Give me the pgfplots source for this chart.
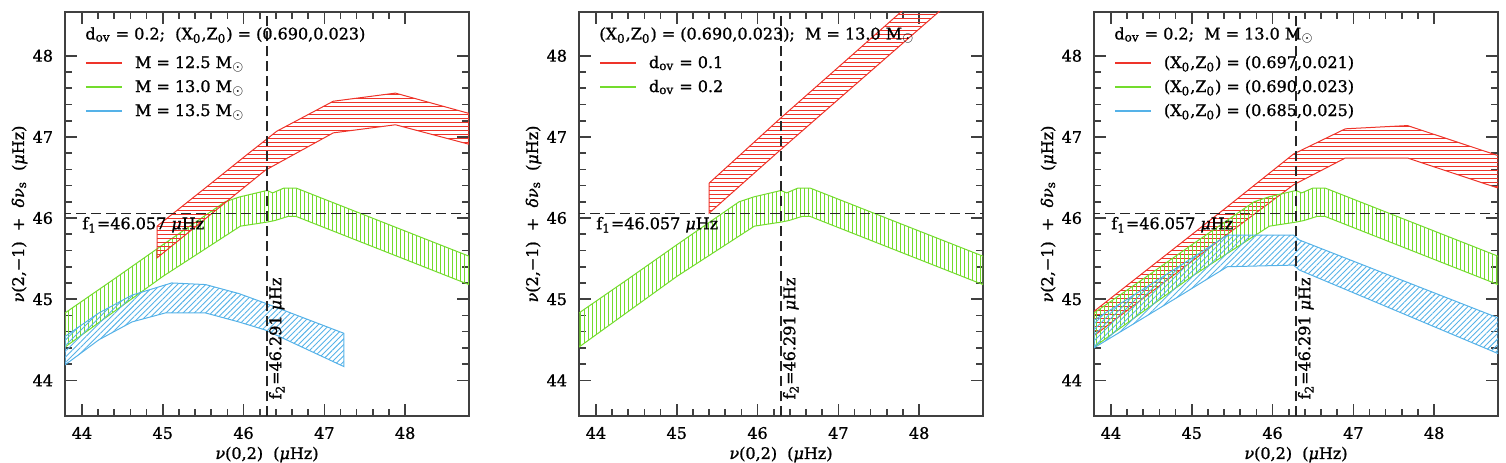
\documentclass[border=0pt]{standalone}
\usepackage{fontspec}
\setmainfont{DejaVu Serif}[FakeBold=1.2]
\usepackage{pgfplots}
\pgfplotsset{compat=1.18}
\usetikzlibrary{patterns.meta}

\definecolor{cRed}{RGB}{238,52,42}
\definecolor{cGreen}{RGB}{115,220,45}
\definecolor{cBlue}{RGB}{85,178,232}

\tikzset{
  redband/.style={draw=cRed, line width=0.5pt,
    pattern={Lines[angle=0,distance=2pt,line width=0.45pt]}, pattern color=cRed},
  greenband/.style={draw=cGreen, line width=0.5pt,
    pattern={Lines[angle=90,distance=2pt,line width=0.45pt]}, pattern color=cGreen},
  blueband/.style={draw=cBlue, line width=0.5pt,
    pattern={Lines[angle=45,distance=2pt,line width=0.45pt]}, pattern color=cBlue},
  refline/.style={black!85, line width=0.7pt, dash pattern=on 5pt off 2.5pt},
}

\pgfplotsset{
  panel/.style={
    scale only axis, width=202pt, height=202pt,
    xmin=43.79, xmax=48.79, ymin=43.56, ymax=48.54,
    xtick={44,45,46,47,48}, ytick={44,45,46,47,48},
    minor x tick num=4, minor y tick num=4,
    tick align=inside,
    major tick length=6pt, minor tick length=3.5pt,
    axis line style={line width=1pt, black!75},
    every tick/.style={line width=0.8pt, black!75},
    /pgf/number format/assume math mode=true,
    xticklabel style={inner sep=0pt, yshift=-5.3pt},
    yticklabel style={inner sep=0pt, xshift=-5.8pt},
    xlabel={\textit{ν}(0,2)\ \ (\textit{μ}Hz)},
    ylabel={\textit{ν}(2,−1)\ \ +\ \ \textit{δν}\textsubscript{s}\ \ (\textit{μ}Hz)},
    every axis x label/.style={at={(axis description cs:0.5,-0.1064)}, anchor=base},
    every axis y label/.style={at={(axis description cs:-0.1015,0.5)}, anchor=base, rotate=90},
    legend image code/.code={\draw[#1, line width=1pt] (0pt,2.6pt) -- (18pt,2.6pt);},
    legend style={at={(axis description cs:0.0495,0.896)}, anchor=north west,
      draw=none, fill=none, inner sep=0pt, outer sep=0pt, row sep=0pt, column sep=6pt,
      nodes={inner sep=0pt, text height=7pt, text depth=5pt, anchor=base west}},
  },
}

% band outlines: upper edge left to right, then lower edge right to left
\newcommand{\greenbandA}{
  \addplot[greenband, forget plot] coordinates {
    (43.79,44.83) (44.40,45.25) (45.00,45.67) (45.77,46.20) (45.95,46.26)
    (46.29,46.34) (46.36,46.31) (46.50,46.37) (46.65,46.37) (48.79,45.53)
    (48.79,45.18) (46.65,46.02) (46.55,46.02) (46.39,45.97) (46.29,45.95)
    (45.96,45.90) (45.00,45.28) (43.79,44.41) (43.79,44.83)};
}

\begin{document}
\fontsize{8pt}{10pt}\selectfont
\begin{tikzpicture}
\path[use as bounding box] (0,0) rectangle (753pt,231pt);

% ---- left: mass
\begin{axis}[panel, at={(32.5pt,23pt)}, anchor=south west]
\greenbandA
\addplot[redband, forget plot] coordinates {
  (44.93,45.90) (45.50,46.35) (46.04,46.78) (46.27,46.96) (46.41,47.07)
  (47.11,47.44) (47.88,47.54) (48.79,47.29)
  (48.79,46.91) (47.88,47.15) (47.11,47.05) (46.27,46.59) (45.50,45.97)
  (44.93,45.51) (44.93,45.90)};
\addplot[blueband, forget plot] coordinates {
  (43.79,44.54) (44.21,44.83) (44.62,45.05) (45.11,45.20) (45.53,45.18)
  (45.94,45.07) (46.27,44.95) (47.24,44.58)
  (47.24,44.17) (46.27,44.62) (45.94,44.72) (45.53,44.83) (45.03,44.83)
  (44.62,44.72) (44.21,44.50) (43.79,44.19) (43.79,44.54)};
\addplot[refline, forget plot] coordinates {(43.0,46.057) (49.0,46.057)};
\addplot[refline, forget plot] coordinates {(46.291,43.0) (46.291,49.0)};
\node[anchor=base west, inner sep=0pt] at (axis cs:44.0,45.863) {f\textsubscript{1}=46.057 \textit{μ}Hz};
\node[anchor=north west, inner sep=0pt, rotate=90] at (axis cs:46.31,43.76) {f\textsubscript{2}=46.291 \textit{μ}Hz};
\node[anchor=base west, inner sep=0pt] at (axis description cs:0.0495,0.932)
  {d\textsubscript{ov} = 0.2;\ \ (X\textsubscript{0},Z\textsubscript{0}) = (0.690,0.023)};
\addlegendimage{draw=cRed}
\addlegendentry{M = 12.5 M\textsubscript{$\odot$}}
\addlegendimage{draw=cGreen}
\addlegendentry{M = 13.0 M\textsubscript{$\odot$}}
\addlegendimage{draw=cBlue}
\addlegendentry{M = 13.5 M\textsubscript{$\odot$}}
\end{axis}

% ---- middle: overshoot
\begin{axis}[panel, at={(289.5pt,23pt)}, anchor=south west]
\greenbandA
\addplot[redband, forget plot] coordinates {
  (45.40,46.43) (46.26,47.21) (48.07,48.80)
  (48.54,48.80) (46.26,46.82) (45.40,46.06) (45.40,46.43)};
\addplot[refline, forget plot] coordinates {(43.0,46.057) (49.0,46.057)};
\addplot[refline, forget plot] coordinates {(46.291,43.0) (46.291,49.0)};
\node[anchor=base west, inner sep=0pt] at (axis cs:44.0,45.863) {f\textsubscript{1}=46.057 \textit{μ}Hz};
\node[anchor=north west, inner sep=0pt, rotate=90] at (axis cs:46.31,43.76) {f\textsubscript{2}=46.291 \textit{μ}Hz};
\node[anchor=base west, inner sep=0pt] at (axis description cs:0.0495,0.932)
  {(X\textsubscript{0},Z\textsubscript{0}) = (0.690,0.023);\ \ M = 13.0 M\textsubscript{$\odot$}};
\addlegendimage{draw=cRed}
\addlegendentry{d\textsubscript{ov} = 0.1}
\addlegendimage{draw=cGreen}
\addlegendentry{d\textsubscript{ov} = 0.2}
\end{axis}

% ---- right: composition
\begin{axis}[panel, at={(547pt,23pt)}, anchor=south west]
\addplot[redband, forget plot] coordinates {
  (43.79,44.85) (45.44,46.14) (46.26,46.79) (46.90,47.10) (47.67,47.14) (48.79,46.77)
  (48.79,46.37) (47.67,46.74) (46.90,46.74) (46.26,46.41) (45.44,45.80)
  (43.79,44.55) (43.79,44.85)};
\greenbandA
\addplot[blueband, forget plot] coordinates {
  (43.79,44.74) (44.90,45.44) (45.44,45.79) (46.26,45.79) (46.33,45.73) (48.79,44.77)
  (48.79,44.33) (46.33,45.36) (46.26,45.42) (45.44,45.40) (44.90,45.07)
  (43.79,44.40) (43.79,44.74)};
\addplot[refline, forget plot] coordinates {(43.0,46.057) (49.0,46.057)};
\addplot[refline, forget plot] coordinates {(46.291,43.0) (46.291,49.0)};
\node[anchor=base west, inner sep=0pt] at (axis cs:44.0,45.863) {f\textsubscript{1}=46.057 \textit{μ}Hz};
\node[anchor=north west, inner sep=0pt, rotate=90] at (axis cs:46.31,43.76) {f\textsubscript{2}=46.291 \textit{μ}Hz};
\node[anchor=base west, inner sep=0pt] at (axis description cs:0.0495,0.932)
  {d\textsubscript{ov} = 0.2;\ \ M = 13.0 M\textsubscript{$\odot$}};
\addlegendimage{draw=cRed}
\addlegendentry{(X\textsubscript{0},Z\textsubscript{0}) = (0.697,0.021)}
\addlegendimage{draw=cGreen}
\addlegendentry{(X\textsubscript{0},Z\textsubscript{0}) = (0.690,0.023)}
\addlegendimage{draw=cBlue}
\addlegendentry{(X\textsubscript{0},Z\textsubscript{0}) = (0.685,0.025)}
\end{axis}
\end{tikzpicture}
\end{document}
